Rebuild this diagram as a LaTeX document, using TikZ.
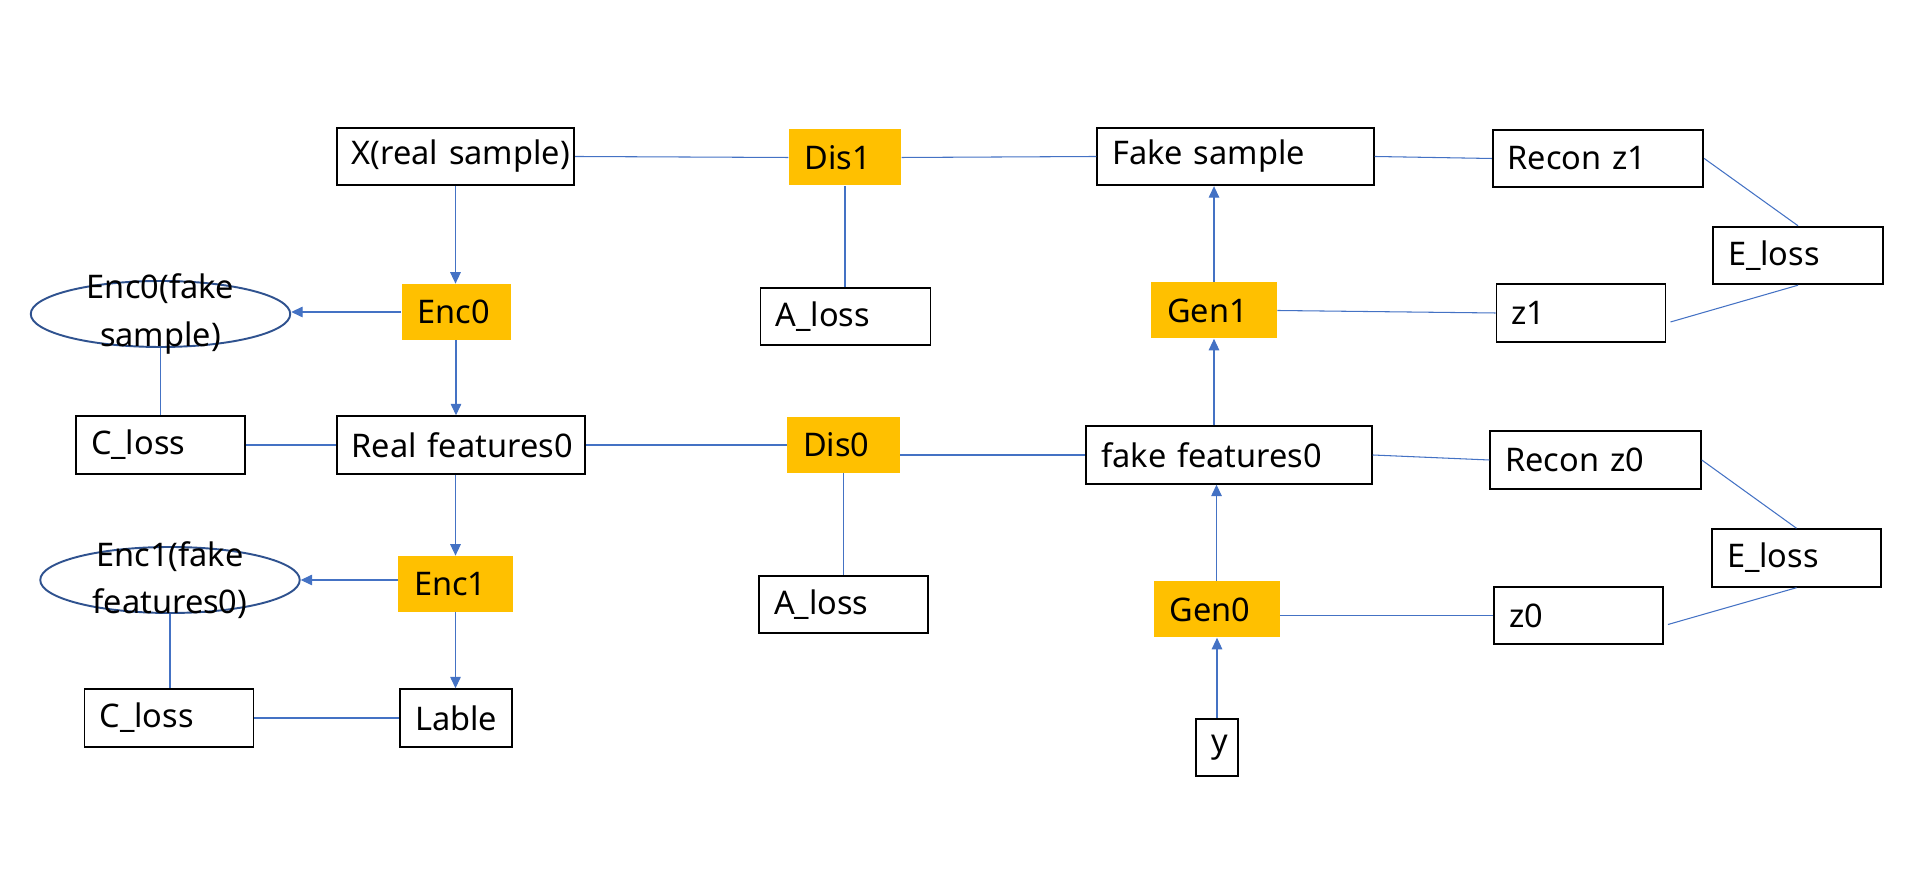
\documentclass[tikz,border=0pt]{standalone}
\usepackage{fontspec}
\setmainfont{Noto Sans}
\usetikzlibrary{arrows.meta,shapes.geometric}
\definecolor{lineblue}{HTML}{4472C4}
\definecolor{ellblue}{HTML}{2F528F}
\definecolor{netorange}{HTML}{FFC000}
\hyphenpenalty=10000
\hbadness=10000

\begin{document}
\begin{tikzpicture}[font=\fontsize{18.5}{27}\selectfont,
        box/.style={draw=black, line width=1.1pt, minimum height=1.15cm, inner xsep=0.3cm, text width=#1 cm, align=left},
        net/.style={fill=netorange, minimum height=1.12cm, inner xsep=0.32cm, text width=#1 cm, align=left},
        ell/.style={ellipse, draw=ellblue, line width=1.1pt, minimum width=5.19cm, minimum height=1.32cm, inner sep=0pt},
        ln/.style={lineblue, line width=0.6pt},
        arr/.style={-{Triangle[width=6pt,length=6.5pt]}, lineblue, line width=0.6pt}]
        \useasboundingbox (0,0) rectangle (38.4,17.7);
        % Top row
        \node[box=4.15] (xs)   at (9.11,14.57)  {\mbox{X(real sample)}};
        \node[net=1.61] (dis1) at (16.90,14.55) {Dis1};
        \node[box=4.93] (fs)   at (24.71,14.57) {\mbox{Fake sample}};
        \node[box=3.61] (rz1)  at (31.96,14.53) {\mbox{Recon z1}};
        \node[box=2.80] (el1)  at (35.96,12.59) {E\_loss};
        \node[box=2.78] (z1)   at (31.62,11.44) {z1};
        \node[net=1.88] (gen1) at (24.28,11.49) {Gen1};
        \node[box=2.80] (al1)  at (16.91,11.37) {A\_loss};
        \node[net=1.54] (enc0) at (9.12,11.46)  {Enc0};
        \node[ell, label={[align=center]center:Enc0(fake\\sample)}] (ef0) at (3.21,11.42) {};
        % Middle row
        \node[box=2.78] (cl0)  at (3.21,8.80)   {C\_loss};
        \node[box=4.37] (rf0)  at (9.22,8.80)   {\mbox{Real features0}};
        \node[net=1.61] (dis0) at (16.87,8.80)  {Dis0};
        \node[box=5.11] (ff0)  at (24.58,8.60)  {\mbox{fake features0}};
        \node[box=3.61] (rz0)  at (31.91,8.50)  {\mbox{Recon z0}};
        \node[box=2.78] (el0)  at (35.93,6.54)  {E\_loss};
        \node[box=2.78] (z0)   at (31.57,5.39)  {z0};
        \node[net=1.88] (gen0) at (24.33,5.51)  {Gen0};
        \node[box=2.78] (al0)  at (16.87,5.61)  {A\_loss};
        \node[net=1.66] (enc1) at (9.11,6.02)   {Enc1};
        \node[ell, label={[align=center]center:Enc1(fake\\features0)}] (ef1) at (3.40,6.10) {};
        % Bottom row
        \node[box=2.78] (cl1)  at (3.38,3.34)   {C\_loss};
        \node[box=1.63] (lab)  at (9.12,3.34)   {Lable};
        \node[box=0.23] (y)    at (24.34,2.75)  {\mbox{y}};
        % Encoder side
        \draw[arr] (xs.south) -- (xs.south |- enc0.north);
        \draw[arr] (enc0.south) -- (enc0.south |- rf0.north);
        \draw[arr] (enc0.west) -- (enc0.west -| ef0.east);
        \draw[ln] (ef0.south) -- (ef0.south |- cl0.north);
        \draw[ln] (cl0.east) -- (rf0.west);
        \draw[arr] (rf0.south -| enc1) -- (enc1.north);
        \draw[arr] (enc1.west |- ef1.east) -- (ef1.east);
        \draw[arr] (enc1.south) -- (enc1.south |- lab.north);
        \draw[ln] (ef1.south) -- (ef1.south |- cl1.north);
        \draw[ln] (cl1.east) -- (lab.west);
        % Discriminators
        \draw[ln] (xs.east) -- (dis1.west);
        \draw[ln] (dis1.east) -- (fs.west);
        \draw[ln] (dis1.south) -- (dis1.south |- al1.north);
        \draw[ln] (rf0.east) -- (dis0.west);
        \draw[ln] (dis0.east |- ff0) -- (ff0.west);
        \draw[ln] (dis0.south) -- (dis0.south |- al0.north);
        % Generator side
        \draw[arr] (y.north) -- (y.north |- gen0.south);
        \draw[arr] (gen0.north) -- (gen0.north |- ff0.south);
        \draw[arr] (ff0.north -| gen1) -- (gen1.south);
        \draw[arr] (gen1.north) -- (gen1.north |- fs.south);
        \draw[ln] (gen1.east) -- (z1.west);
        \draw[ln] (gen0.east |- z0) -- (z0.west);
        \draw[ln] (fs.east) -- (rz1.west);
        \draw[ln] (ff0.east) -- (rz0.west);
        % Latent losses
        \draw[ln] (rz1.east) -- (el1.north);
        \draw[ln] ([shift={(0.08,-0.18)}]z1.east) -- (el1.south);
        \draw[ln] (rz0.east) -- (el0.north);
        \draw[ln] ([shift={(0.08,-0.18)}]z0.east) -- (el0.south);
    \end{tikzpicture}
\end{document}
